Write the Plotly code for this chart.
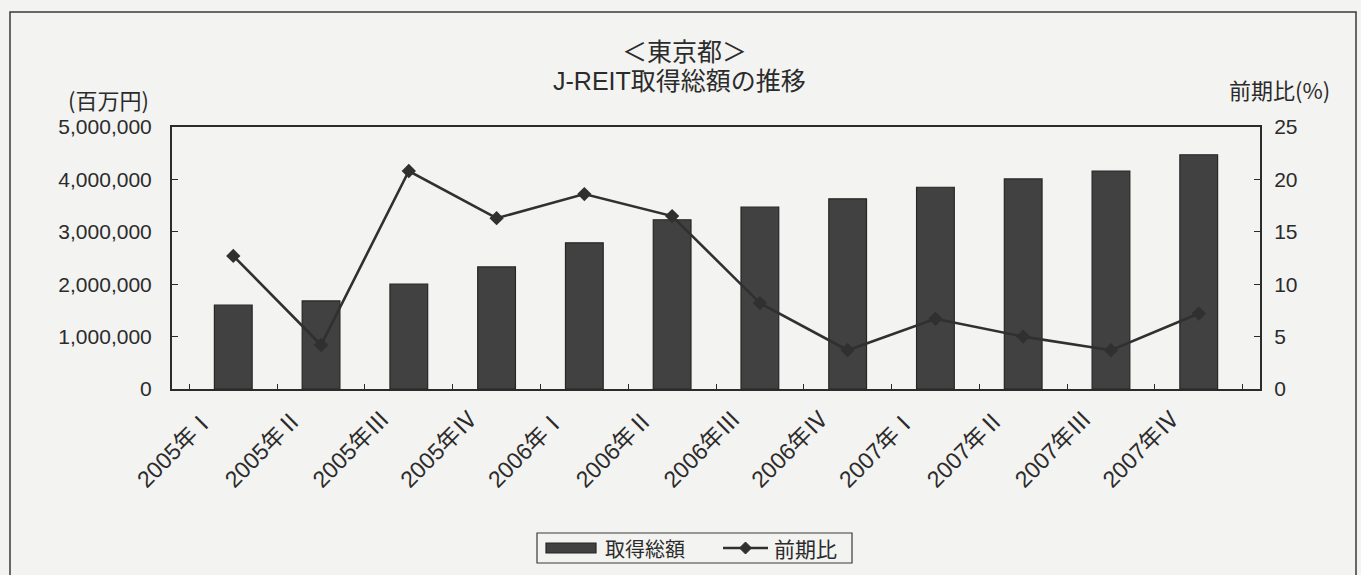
import plotly.graph_objects as go

# Quarterly categories (Roman numerals mark the quarter)
quarters = ["2005年Ⅰ", "2005年Ⅱ", "2005年Ⅲ", "2005年Ⅳ",
            "2006年Ⅰ", "2006年Ⅱ", "2006年Ⅲ", "2006年Ⅳ",
            "2007年Ⅰ", "2007年Ⅱ", "2007年Ⅲ", "2007年Ⅳ"]

# Total J-REIT acquisitions in Tokyo (million yen)
acquisition_total = [1600000, 1680000, 2000000, 2330000,
                     2790000, 3230000, 3470000, 3630000,
                     3850000, 4010000, 4160000, 4470000]

# Quarter-on-quarter growth (%)
qoq_change = [12.7, 4.2, 20.8, 16.3, 18.6, 16.5, 8.2, 3.7, 6.7, 5.0, 3.7, 7.2]

left_ticks = [0, 1000000, 2000000, 3000000, 4000000, 5000000]
right_ticks = [0, 5, 10, 15, 20, 25]

W, H = 1361, 575
L, R, T, B = 172, 101, 127, 186
PW, PH = W - L - R, H - T - B


def px_x(x):
    return (x - L) / PW


def px_y(y):
    return (H - B - y) / PH


FONT = "Liberation Sans, Arial, Noto Sans CJK JP, sans-serif"
CJK = "Noto Sans CJK JP, Liberation Sans, sans-serif"
INK = "#2b2b2b"
BG = "#f3f3f1"
BAR = "#414141"
LINE = "#303030"

fig = go.Figure()

fig.add_trace(go.Bar(
    x=quarters, y=acquisition_total, name="取得総額",
    marker=dict(color=BAR, line=dict(color="#262626", width=1.2)),
    width=0.43, yaxis="y", showlegend=False,
))

fig.add_trace(go.Scatter(
    x=quarters, y=qoq_change, name="前期比", mode="lines+markers",
    line=dict(color=LINE, width=2.6),
    marker=dict(symbol="diamond", size=11, color=LINE),
    yaxis="y2", showlegend=False,
))

fig.update_layout(
    width=W, height=H, autosize=False,
    margin=dict(l=L, r=R, t=T, b=B, pad=0),
    paper_bgcolor=BG, plot_bgcolor=BG,
    font=dict(family=FONT, color=INK, size=20),
    showlegend=False,
    xaxis=dict(
        type="category", showline=True, linecolor=INK, linewidth=2,
        mirror=True, ticks="inside", ticklen=5, tickcolor=INK,
        tickson="boundaries", tickangle=-45,
        ticklabelstandoff=5, ticklabelshift=-26,
        tickfont=dict(size=23, family=FONT),
        showgrid=False, zeroline=False,
    ),
    yaxis=dict(
        range=[0, 5000000], tickvals=left_ticks, tickformat=",",
        showline=True, linecolor=INK, linewidth=2, mirror=True,
        ticks="inside", ticklen=6, tickcolor=INK,
        ticklabelstandoff=14,
        tickfont=dict(size=21), showgrid=False, zeroline=False,
    ),
    yaxis2=dict(
        range=[0, 25], tickvals=right_ticks, overlaying="y", side="right",
        showline=True, linecolor=INK, linewidth=2,
        ticks="inside", ticklen=6, tickcolor=INK,
        ticklabelstandoff=8,
        tickfont=dict(size=21), showgrid=False, zeroline=False,
    ),
    bargap=0.57,
)


def label(text, x, y, size, family=FONT, xanchor="center"):
    fig.add_annotation(text=text, x=px_x(x), y=px_y(y),
                       xref="paper", yref="paper", showarrow=False,
                       xanchor=xanchor, yanchor="middle",
                       font=dict(size=size, family=family, color=INK))


# Two-line chart heading
label("＜東京都＞", 684, 50, 25, CJK)
label("J-REIT取得総額の推移", 679, 81, 25)

# Axis unit captions
label("(百万円)", 108, 99, 22, CJK)
label("前期比(%)", 1279, 89, 22, CJK)

# Outer chart frame
fig.add_shape(type="rect", xref="paper", yref="paper",
              x0=px_x(10), x1=px_x(1356), y0=px_y(590), y1=px_y(12),
              line=dict(color="#3a3a3a", width=1.5), layer="below")

# Legend box with a wide bar swatch and a line-with-diamond swatch
fig.add_shape(type="rect", xref="paper", yref="paper",
              x0=px_x(537), x1=px_x(852), y0=px_y(563), y1=px_y(533),
              line=dict(color="#3a3a3a", width=1.2), fillcolor=BG)
fig.add_shape(type="rect", xref="paper", yref="paper",
              x0=px_x(546), x1=px_x(596), y0=px_y(553), y1=px_y(543),
              line=dict(color="#262626", width=1.2), fillcolor=BAR)
label("取得総額", 603, 548, 20, CJK, xanchor="left")
fig.add_shape(type="line", xref="paper", yref="paper",
              x0=px_x(723), x1=px_x(768), y0=px_y(548), y1=px_y(548),
              line=dict(color=LINE, width=2.6))
fig.add_shape(type="path", xref="paper", yref="paper",
              path="M {a},{c} L {b},{d} L {e},{c} L {b},{f} Z".format(
                  a=px_x(739.5), b=px_x(745.5), e=px_x(751.5),
                  c=px_y(548), d=px_y(542), f=px_y(554)),
              line=dict(color=LINE, width=1), fillcolor=LINE)
label("前期比", 772, 548, 21, CJK, xanchor="left")

fig.write_html("out.html")
